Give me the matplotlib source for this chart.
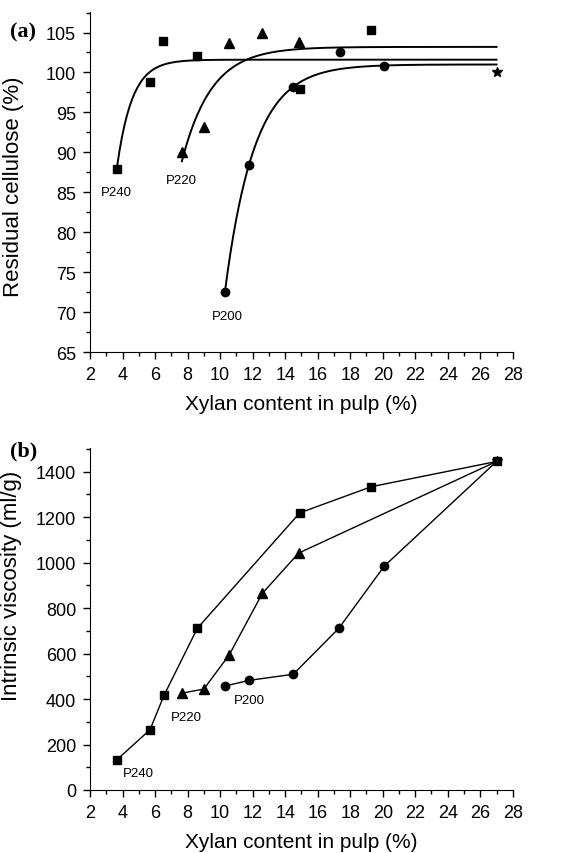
import numpy as np
import matplotlib.pyplot as plt
from matplotlib.ticker import MultipleLocator

plt.rcParams['font.family'] = ['Liberation Sans', 'DejaVu Sans']

# (a) residual cellulose vs xylan content
a_sq_x = [3.65, 5.7, 6.5, 8.6, 14.9, 19.3]
a_sq_y = [87.9, 98.8, 104.0, 102.0, 97.9, 105.3]
a_tri_x = [7.67, 9.0, 10.56, 12.6, 14.83]
a_tri_y = [90.05, 93.2, 103.75, 104.9, 103.8]
a_cir_x = [10.3, 11.77, 14.5, 17.36, 20.1]
a_cir_y = [72.6, 88.4, 98.2, 102.6, 100.75]
star_x = 27.0
star_a = 100.0

# fitted curves: plateau, start x, start y, rate
fit_p240 = (101.6, 3.65, 88.0, 1.075)
fit_p220 = (103.2, 7.65, 88.9, 0.55)
fit_p200 = (101.0, 10.3, 72.6, 0.553)

# (b) intrinsic viscosity vs xylan content
b_sq_x = [3.64, 5.69, 6.55, 8.6, 14.9, 19.3, 27.0]
b_sq_y = [132, 265, 416, 711, 1219, 1334, 1445]
b_tri_x = [7.67, 9.0, 10.56, 12.6, 14.83, 27.0]
b_tri_y = [426, 444, 594, 865, 1042, 1445]
b_cir_x = [10.3, 11.77, 14.5, 17.3, 20.1, 27.0]
b_cir_y = [457, 482, 509, 711, 985, 1445]

fig = plt.figure(figsize=(5.66, 8.54), dpi=100)
ax1 = fig.add_axes([0.159, 0.5863, 0.747, 0.3988])
ax2 = fig.add_axes([0.159, 0.0738, 0.747, 0.4001])

ms = dict(color='black', linestyle='none')

# panel a
for plateau, x0, y0, k in (fit_p240, fit_p220, fit_p200):
    xx = np.linspace(x0, 27.0, 300)
    yy = plateau - (plateau - y0) * np.exp(-k * (xx - x0))
    ax1.plot(xx, yy, color='black', lw=1.4)
ax1.plot(a_sq_x, a_sq_y, marker='s', markersize=5.5, **ms)
ax1.plot(a_tri_x, a_tri_y, marker='^', markersize=6.5, **ms)
ax1.plot(a_cir_x, a_cir_y, marker='o', markersize=6, **ms)
ax1.plot([star_x], [star_a], marker='*', markersize=7, **ms)
ax1.text(3.64, 85.0, 'P240', ha='center', va='center', fontsize=9.5)
ax1.text(7.62, 86.6, 'P220', ha='center', va='center', fontsize=9.5)
ax1.text(10.42, 69.5, 'P200', ha='center', va='center', fontsize=9.5)
ax1.set_ylim(65, 107.6)
ax1.yaxis.set_major_locator(MultipleLocator(5))
ax1.yaxis.set_minor_locator(MultipleLocator(2.5))
ax1.set_ylabel('Residual cellulose (%)', fontsize=16)
ax1.yaxis.set_label_coords(-0.156, 0.49)

# panel b
ax2.plot(b_sq_x, b_sq_y, color='black', lw=1.0, marker='s', markersize=5.5)
ax2.plot(b_tri_x, b_tri_y, color='black', lw=1.0, marker='^', markersize=6.5, markevery=list(range(len(b_tri_x) - 1)))
ax2.plot(b_cir_x, b_cir_y, color='black', lw=1.0, marker='o', markersize=6, markevery=list(range(len(b_cir_x) - 1)))
ax2.plot([star_x], [b_sq_y[-1]], marker='*', markersize=7, **ms)
ax2.text(4.95, 75, 'P240', ha='center', va='center', fontsize=9.5)
ax2.text(7.9, 320, 'P220', ha='center', va='center', fontsize=9.5)
ax2.text(11.8, 396, 'P200', ha='center', va='center', fontsize=9.5)
ax2.set_ylim(0, 1503)
ax2.yaxis.set_major_locator(MultipleLocator(200))
ax2.yaxis.set_minor_locator(MultipleLocator(100))
ax2.set_ylabel('Intrinsic viscosity (ml/g)', fontsize=16)
ax2.yaxis.set_label_coords(-0.16, 0.6)

for ax in (ax1, ax2):
    ax.set_xlim(2, 28)
    ax.xaxis.set_major_locator(MultipleLocator(2))
    ax.xaxis.set_minor_locator(MultipleLocator(1))
    ax.spines['top'].set_visible(False)
    ax.spines['right'].set_visible(False)
    ax.tick_params(which='major', direction='out', length=5, width=1, labelsize=13, pad=5)
    ax.tick_params(which='minor', direction='out', length=3, width=1)
    ax.set_xlabel('Xylan content in pulp (%)', fontsize=15, labelpad=8)

fig.text(0.018, 0.962, '(a)', fontsize=16, fontweight='bold', family='Liberation Serif', va='center')
fig.text(0.018, 0.471, '(b)', fontsize=16, fontweight='bold', family='Liberation Serif', va='center')

fig.savefig('out.png', dpi=100)
